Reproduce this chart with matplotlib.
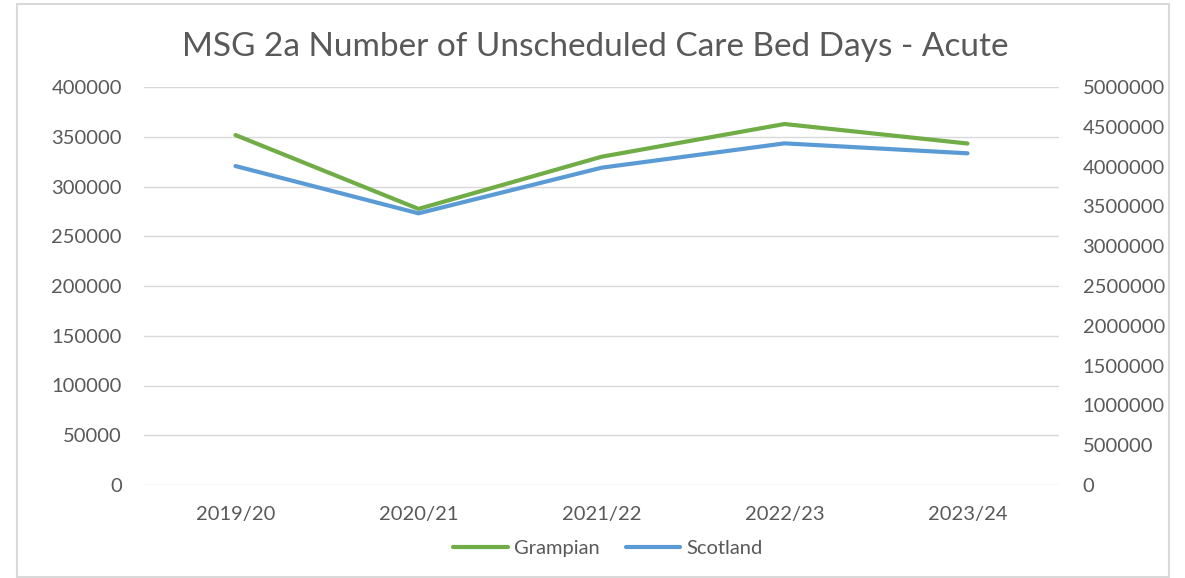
import matplotlib
matplotlib.use("Agg")
import matplotlib.pyplot as plt
from matplotlib.patches import Rectangle

categories = ["2019/20", "2020/21", "2021/22", "2022/23", "2023/24"]
grampian = [351700, 277500, 329900, 362800, 343200]
scotland = [4007000, 3413000, 3986000, 4292000, 4167000]
left_ticks = [0, 50000, 100000, 150000, 200000, 250000, 300000, 350000, 400000]
right_ticks = [0, 500000, 1000000, 1500000, 2000000, 2500000, 3000000, 3500000, 4000000, 4500000, 5000000]

plt.rcParams['font.family'] = ['Lato', 'DejaVu Sans']
text_col = "#595959"
grid_col = "#d9d9d9"
green = "#70AD47"
blue = "#5B9BD5"

fig = plt.figure(figsize=(11.85, 5.78), dpi=100)
fig.patches.append(Rectangle((17/1185, 1/578), (1169-17)/1185, (574-1)/578,
                             transform=fig.transFigure, fill=False,
                             edgecolor=grid_col, linewidth=1.5))

ax = fig.add_axes([144/1185, 1-485/578, (1059-144)/1185, (485-87)/578])
ax2 = ax.twinx()

x = list(range(len(categories)))
l1, = ax.plot(x, grampian, color=green, lw=3, solid_capstyle='round', label="Grampian", zorder=3)
l2, = ax2.plot(x, scotland, color=blue, lw=3, solid_capstyle='round', label="Scotland", zorder=3)

ax.set_xlim(-0.5, len(categories) - 0.5)
ax.set_ylim(0, 400000)
ax2.set_ylim(0, 5000000)
ax.set_yticks(left_ticks)
ax.set_yticklabels([str(v) for v in left_ticks])
ax2.set_yticks(right_ticks)
ax2.set_yticklabels([str(v) for v in right_ticks])
ax.set_xticks(x)
ax.set_xticklabels(categories)

for a in (ax, ax2):
    for s in a.spines.values():
        s.set_visible(False)
    a.tick_params(length=0, colors=text_col, labelsize=14.5)
ax.tick_params(axis='y', pad=16)
ax2.tick_params(axis='y', pad=17)
ax.tick_params(axis='x', pad=15)
ax.grid(axis='y', color=grid_col, lw=1)
ax.set_axisbelow(True)

fig.text(595/1185, 1-47/578, "MSG 2a Number of Unscheduled Care Bed Days - Acute",
         ha='center', va='center', fontsize=24, color=text_col)

fig.legend(handles=[l1, l2], loc='center', bbox_to_anchor=(608/1185, 1-548/578),
           ncol=2, frameon=False, fontsize=14.5, labelcolor=text_col,
           handlelength=2.7, handletextpad=0.3, columnspacing=1.3)

fig.savefig("out.png", dpi=100)
